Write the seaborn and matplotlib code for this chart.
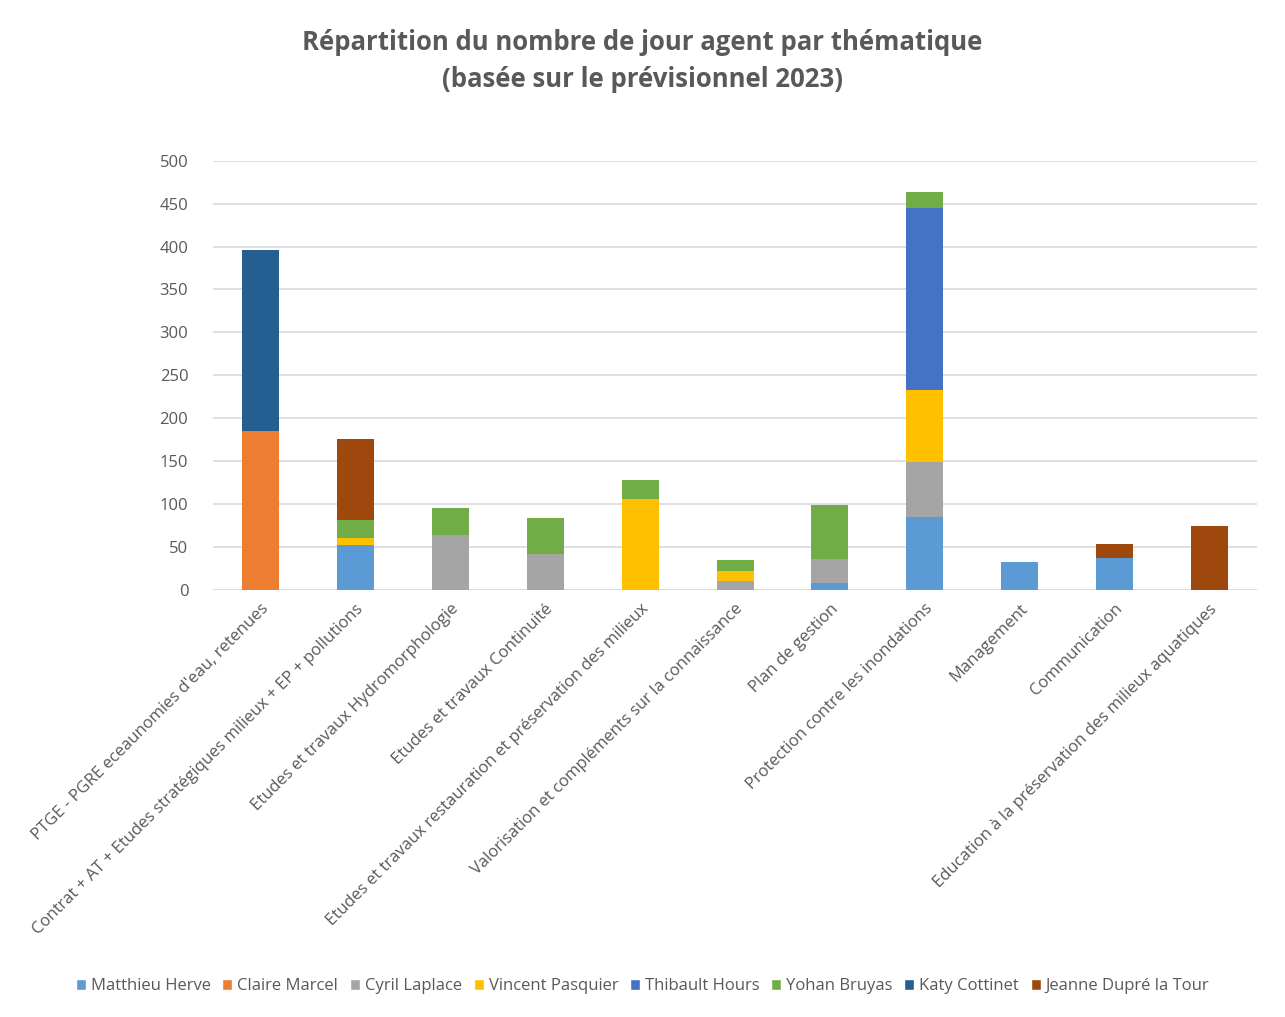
import numpy as np
import pandas as pd
import seaborn as sns
import matplotlib.pyplot as plt
from matplotlib.patches import Patch

categories = [
    "PTGE - PGRE eceaunomies d'eau, retenues",
    "Contrat + AT + Etudes stratégiques milieux + EP + pollutions",
    "Etudes et travaux Hydromorphologie",
    "Etudes et travaux Continuité",
    "Etudes et travaux restauration et préservation des milieux",
    "Valorisation et compléments sur la connaissance",
    "Plan de gestion",
    "Protection contre les inondations",
    "Management",
    "Communication",
    "Education à la préservation des milieux aquatiques",
]

agents = [
    "Matthieu Herve", "Claire Marcel", "Cyril Laplace", "Vincent Pasquier",
    "Thibault Hours", "Yohan Bruyas", "Katy Cottinet", "Jeanne Dupré la Tour",
]

matthieu = [0, 52, 0, 0, 0, 0, 8, 85, 33, 37, 0]
claire = [185, 0, 0, 0, 0, 0, 0, 0, 0, 0, 0]
cyril = [0, 0, 64, 42, 0, 10, 28, 64, 0, 0, 0]
vincent = [0, 9, 0, 0, 106, 12, 0, 84, 0, 0, 0]
thibault = [0, 0, 0, 0, 0, 0, 0, 212, 0, 0, 0]
yohan = [0, 20, 31, 42, 22, 13, 63, 19, 0, 0, 0]
katy = [211, 0, 0, 0, 0, 0, 0, 0, 0, 0, 0]
jeanne = [0, 95, 0, 0, 0, 0, 0, 0, 0, 16, 74]

colors = ["#5B9BD5", "#ED7D31", "#A5A5A5", "#FFC000",
          "#4472C4", "#70AD47", "#255E91", "#9E480E"]

series = [matthieu, claire, cyril, vincent, thibault, yohan, katy, jeanne]
cum = np.cumsum(np.array(series), axis=0)

sns.set_theme(style="white")
plt.rcParams['font.family'] = ['Open Sans', 'DejaVu Sans']
txt = "#595959"

fig = plt.figure(figsize=(12.85, 10.17), dpi=100)
ax = fig.add_axes([0.166, 0.42, 0.812, 0.422])

# draw cumulative totals from the top series down so each layer shows
for i in range(len(agents) - 1, -1, -1):
    df = pd.DataFrame({"cat": categories, "val": cum[i]})
    sns.barplot(data=df, x="cat", y="val", color=colors[i], width=0.39,
                saturation=1, linewidth=0, ax=ax, zorder=3)

ax.set_ylim(0, 500)
ax.set_xlim(-0.5, 10.5)
ax.set_yticks(range(0, 501, 50))
ax.yaxis.grid(True, color="#D9D9D9", linewidth=1.2, zorder=0)
ax.set_axisbelow(True)
for s in ax.spines.values():
    s.set_visible(False)
ax.axhline(0, color="#D9D9D9", linewidth=1.2, zorder=1)
ax.set_xlabel("")
ax.set_ylabel("")
ax.tick_params(axis="both", length=0, colors=txt, labelsize=12)
ax.tick_params(axis="y", pad=18)
ax.set_xticks(range(len(categories)))
ax.set_xticklabels(categories, rotation=45, ha="right", rotation_mode="anchor",
                   color=txt, fontsize=12)
ax.tick_params(axis="x", pad=8)

fig.text(0.5, 0.958, "Répartition du nombre de jour agent par thématique",
         ha="center", va="center", fontsize=18.5, fontweight="bold", color=txt)
fig.text(0.5, 0.922, "(basée sur le prévisionnel 2023)",
         ha="center", va="center", fontsize=18.5, fontweight="bold", color=txt)

handles = [Patch(facecolor=c, label=a) for a, c in zip(agents, colors)]
fig.legend(handles=handles, loc="center", bbox_to_anchor=(0.5, 0.03), ncol=8,
           frameon=False, fontsize=12, handlelength=0.6, handleheight=0.6,
           handletextpad=0.3, columnspacing=0.7, labelcolor=txt)

fig.savefig("out.png", dpi=100, facecolor="white")
